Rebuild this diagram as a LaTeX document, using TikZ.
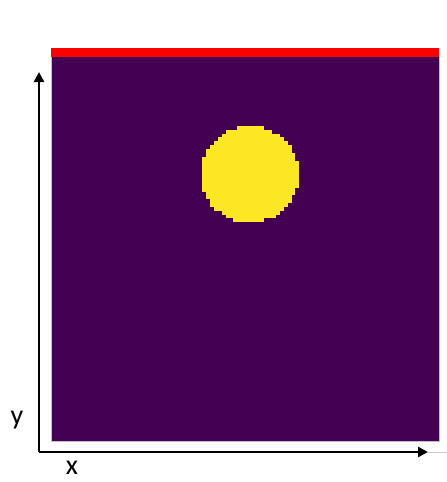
\documentclass[tikz,border=0pt]{standalone}
\usepackage{fontspec}
\setmainfont{Carlito}
\usetikzlibrary{arrows.meta}
\definecolor{vpurple}{HTML}{440154}
\definecolor{vyellow}{HTML}{FDE725}
\tikzset{
  axisline/.style={line width=2.6pt,-{Triangle[length=10pt,width=10pt]}},
  axislabel/.style={font=\fontsize{28}{30}\selectfont,inner sep=0pt},
}
\begin{document}
\begin{tikzpicture}[x=1pt,y=-1pt]
\useasboundingbox[fill=white] (0,0) rectangle (447,482);
% field
\fill[vpurple] (51,56) rectangle (439,441);
\draw[gray!50,line width=0.5pt] (51,57) -- (51,441) -- (439,441) -- (439,57);
% red band
\fill[red] (50.75,47.5) rectangle (439.25,57);
% pixelated circle
\pgfmathsetmacro{\cw}{3.88}
\pgfmathsetmacro{\ch}{3.84}
\pgfmathsetmacro{\cx}{51.3}
\pgfmathsetmacro{\cy}{30.6}
\pgfmathsetmacro{\rr}{12.6}
\foreach \j in {16,...,45}{
  \pgfmathsetmacro{\dy}{\j+0.5-\cy}
  \pgfmathparse{abs(\dy)<\rr ? 1 : 0}
  \ifnum\pgfmathresult=1
    \pgfmathsetmacro{\half}{sqrt(\rr*\rr-\dy*\dy)}
    \pgfmathsetmacro{\imin}{ceil(\cx-\half-0.5)}
    \pgfmathsetmacro{\imax}{floor(\cx+\half-0.5)+1}
    \fill[vyellow] ({51+\imin*\cw},{57+\j*\ch-0.15}) rectangle ({51+\imax*\cw},{57+(\j+1)*\ch+0.15});
  \fi
}
% axes
\coordinate (o) at (39,452);
\coordinate (ytip) at (39,72);
\coordinate (xtip) at (428,452);
\coordinate (xend) at (447,452);
\draw[gray!40,line width=0.6pt] (xtip) -- (xend);
\draw[axisline] (o) -- (ytip);
\draw[axisline] (o) -- (xtip);
\node[axislabel] (ylab) at (17,420) {y};
\node[axislabel] (xlab) at (72,468) {x};
\end{tikzpicture}
\end{document}
